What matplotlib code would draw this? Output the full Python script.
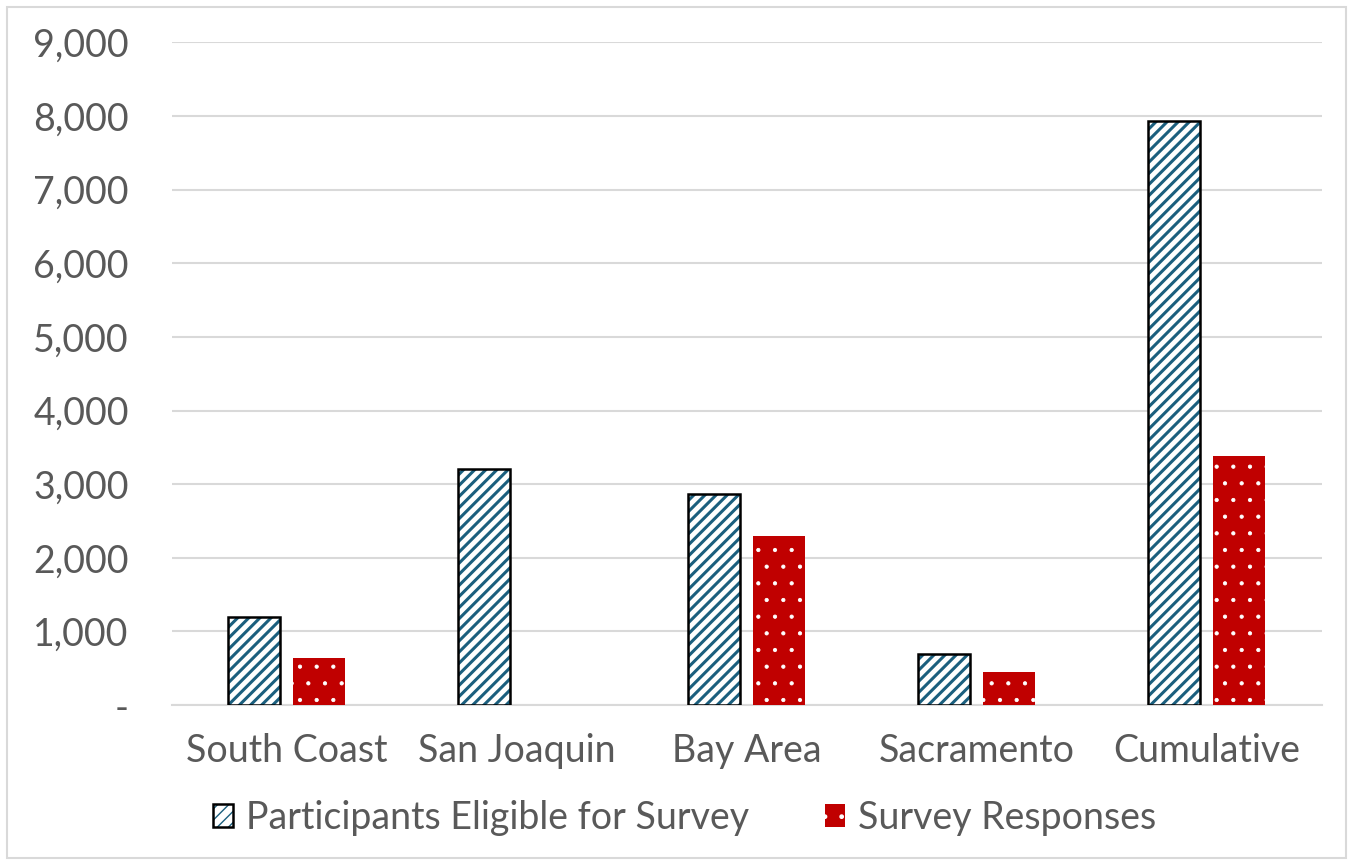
import numpy as np
import matplotlib as mpl
import matplotlib.pyplot as plt
from matplotlib.patches import Rectangle
from matplotlib.legend_handler import HandlerTuple

categories = ["South Coast", "San Joaquin", "Bay Area", "Sacramento", "Cumulative"]
eligible = [1195, 3200, 2864, 692, 7927]
responses = [638, 0, 2294, 448, 3380]
yticks = [0, 1000, 2000, 3000, 4000, 5000, 6000, 7000, 8000, 9000]

plt.rcParams['font.family'] = ['Lato', 'DejaVu Sans']

txt = "#595959"
teal = "#1b5f7e"
red = "#c00000"
fs = 27

fig = plt.figure(figsize=(13.53, 8.61), dpi=100)
ax = fig.add_axes([0.127, 0.181, 0.850, 0.770])

x = np.arange(len(categories))
w = 0.226
off = 0.141

# eligible: white with teal stripes, black outline
with mpl.rc_context({'hatch.linewidth': 2.2}):
    ax.bar(x - off, eligible, w, color="white", edgecolor=teal, hatch="///", linewidth=0, zorder=3)
    h1 = Rectangle((0, 0), 1, 1, facecolor="white", edgecolor=teal, hatch="///", linewidth=0)
ax.bar(x - off, eligible, w, fill=False, edgecolor="black", linewidth=1.8, zorder=4)
h1b = Rectangle((0, 0), 1, 1, fill=False, edgecolor="black", linewidth=1.8)
# responses: red with small white dots
with mpl.rc_context({'hatch.linewidth': 0.6}):
    ax.bar(x + off, responses, w, color=red, edgecolor="white", hatch=".", linewidth=0, zorder=3)
    h2 = Rectangle((0, 0), 1, 1, facecolor=red, edgecolor="white", hatch=".", linewidth=0)

ax.set_xlim(-0.5, 4.5)
ax.set_ylim(0, 9000)
ax.set_yticks(yticks)
ax.set_yticklabels(["-" if v == 0 else f"{v:,}" for v in yticks])
ax.set_xticks(x)
ax.set_xticklabels(categories)
ax.tick_params(axis="both", length=0, labelsize=fs, colors=txt)
ax.tick_params(axis="y", pad=31)
ax.tick_params(axis="x", pad=20)
ax.grid(axis="y", color="#d9d9d9", linewidth=1.5, zorder=0)
for s in ["top", "right", "left"]:
    ax.spines[s].set_visible(False)
ax.spines["bottom"].set_color("#d9d9d9")
ax.spines["bottom"].set_linewidth(1.5)

leg = fig.legend([(h1, h1b), h2], ["Participants Eligible for Survey", "Survey Responses"],
                 handler_map={tuple: HandlerTuple(ndivide=1, pad=0)},
                 loc="center", bbox_to_anchor=(0.506, 0.05), ncol=2, frameon=False,
                 fontsize=fs, handlelength=0.55, handleheight=0.55, handletextpad=0.35,
                 columnspacing=2.0)
for t in leg.get_texts():
    t.set_color(txt)

fig.patches.append(Rectangle((0.005, 0.003), 0.99, 0.989, transform=fig.transFigure,
                             fill=False, edgecolor="#d9d9d9", linewidth=1.5))

fig.savefig("out.png", dpi=100)
